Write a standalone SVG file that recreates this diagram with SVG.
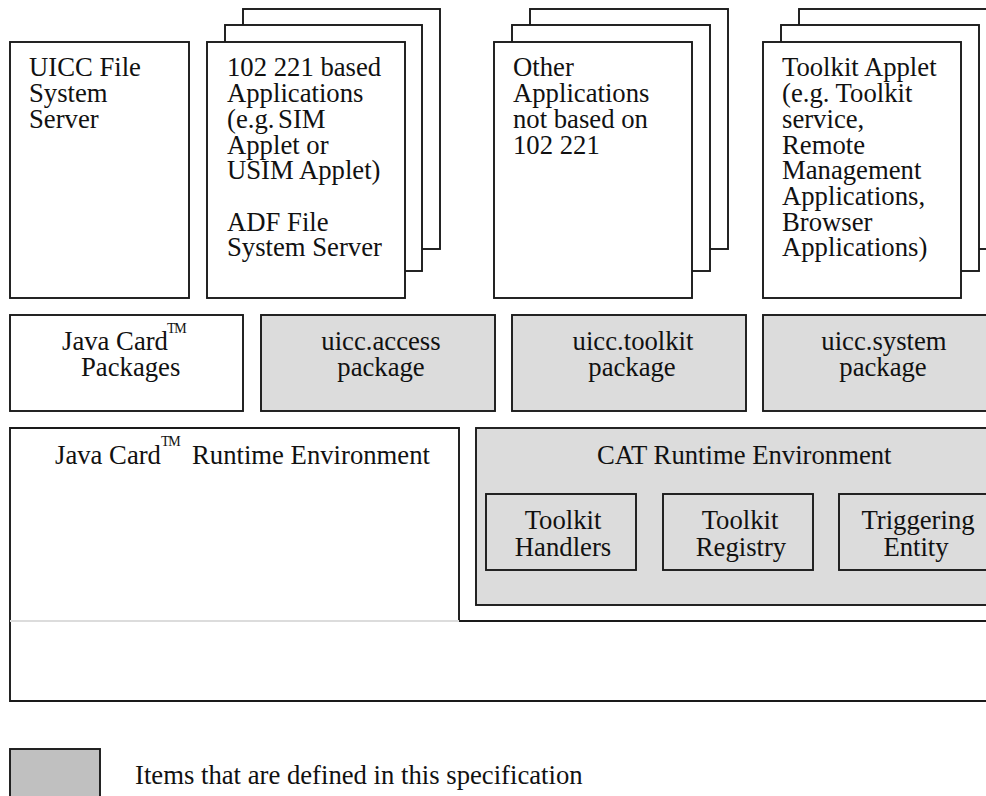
<svg xmlns="http://www.w3.org/2000/svg" width="986" height="796" viewBox="0 0 986 796">
<style>
text{font-family:"Liberation Serif","Times New Roman",serif;font-size:26.7px;fill:#111}
.tm{font-size:14px;letter-spacing:-1.4px}
.m{text-anchor:middle}
rect,path{stroke:#1a1a1a;stroke-width:1.9;fill:#fff}
.g{fill:#dcdcdc}
.l{fill:#c0c0c0}
</style>
<rect width="986" height="796" style="fill:#fff;stroke:none"/>
<g id="uicc-file-system-server"><rect x="10" y="42" width="179" height="256"/>
<text x="29" y="76">UICC File</text><text x="29" y="102">System</text><text x="29" y="128">Server</text></g>
<g id="applications-102-221"><rect x="243" y="9" width="197" height="240"/><rect x="225" y="25" width="197" height="246"/><rect x="207" y="42" width="198" height="256"/>
<text x="227" y="76">102 221 based</text><text x="227" y="102">Applications</text><text x="227" y="128" word-spacing="-3">(e.g. SIM</text><text x="227" y="154">Applet or</text><text x="227" y="179">USIM Applet)</text><text x="227" y="231">ADF File</text><text x="227" y="256">System Server</text></g>
<g id="other-applications"><rect x="530" y="9" width="198" height="240"/><rect x="512" y="25" width="198" height="246"/><rect x="494" y="42" width="198" height="256"/>
<text x="513" y="76">Other</text><text x="513" y="102">Applications</text><text x="513" y="128">not based on</text><text x="513" y="154">102 221</text></g>
<g id="toolkit-applet"><rect x="799" y="9" width="198" height="240"/><rect x="781" y="25" width="198" height="246"/><rect x="763" y="42" width="198" height="256"/>
<text x="782" y="76">Toolkit Applet</text><text x="782" y="102">(e.g. Toolkit</text><text x="782" y="128">service,</text><text x="782" y="154">Remote</text><text x="782" y="179">Management</text><text x="782" y="205">Applications,</text><text x="782" y="231">Browser</text><text x="782" y="256">Applications)</text></g>
<g id="java-card-packages"><rect x="10" y="315" width="233" height="96"/>
<text x="62" y="350">Java Card</text><text class="tm" x="167" y="333">TM</text><text x="81" y="376">Packages</text></g>
<g id="uicc-access"><rect class="g" x="261" y="315" width="234" height="96"/>
<text class="m" x="381" y="350">uicc.access</text><text class="m" x="381" y="376">package</text></g>
<g id="uicc-toolkit"><rect class="g" x="512" y="315" width="234" height="96"/>
<text class="m" x="633" y="350">uicc.toolkit</text><text class="m" x="632" y="376">package</text></g>
<g id="uicc-system"><rect class="g" x="763" y="315" width="240" height="96"/>
<text class="m" x="884" y="350">uicc.system</text><text class="m" x="883" y="376">package</text></g>
<g id="runtime-layer"><path d="M10 621V428H459V621" style="fill:#fff"/>
<path d="M10 621V701H1000M459 621H1000" style="fill:none"/>
<path d="M10 621H459" style="stroke:#dcdcdc;fill:none"/>
<text x="55" y="464">Java Card</text><text class="tm" x="161" y="446">TM</text><text x="192" y="464">Runtime Environment</text></g>
<g id="cat-runtime-environment"><rect class="g" x="476" y="428" width="530" height="177"/>
<text x="597" y="464">CAT Runtime Environment</text></g>
<g id="toolkit-handlers"><rect class="g" x="486" y="494" width="150" height="76"/>
<text class="m" x="563" y="529">Toolkit</text><text class="m" x="563" y="556">Handlers</text></g>
<g id="toolkit-registry"><rect class="g" x="663" y="494" width="150" height="76"/>
<text class="m" x="740" y="529">Toolkit</text><text class="m" x="741" y="556">Registry</text></g>
<g id="triggering-entity"><rect class="g" x="839" y="494" width="160" height="76"/>
<text class="m" x="918" y="529">Triggering</text><text class="m" x="916" y="556">Entity</text></g>
<g id="legend"><rect class="l" x="10" y="749" width="90" height="60"/>
<text x="135" y="784">Items that are defined in this specification</text></g>
<g id="connectors"/>
</svg>
